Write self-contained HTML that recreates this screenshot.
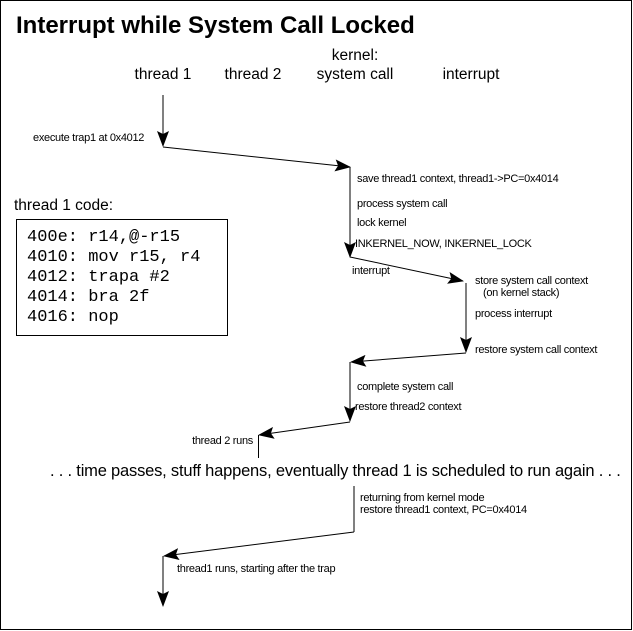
<!DOCTYPE html>
<html><head><style>
html,body{margin:0;padding:0;background:#fff}
svg{display:block}
text{font-family:"Liberation Sans",Arial,sans-serif;fill:#000}
.s{font-size:11px;letter-spacing:-0.3px}
.h{font-size:15.5px}
.c{font-family:"Liberation Mono",monospace;font-size:17px}
</style></head><body>
<svg width="633" height="631" viewBox="0 0 633 631" xmlns="http://www.w3.org/2000/svg">
<defs>
<marker id="a" markerWidth="16" markerHeight="12" refX="15" refY="6" orient="auto" markerUnits="userSpaceOnUse">
<path d="M0,0 L16,6 L0,12 L3,6 Z" fill="#000"/>
</marker>
</defs>
<rect x="0.5" y="0.5" width="631" height="629" fill="#fff" stroke="#000"/>
<text x="16" y="33" style="font-size:24px;font-weight:bold">Interrupt while System Call Locked</text>
<text class="h" x="163" y="79" text-anchor="middle">thread 1</text>
<text class="h" x="253" y="79" text-anchor="middle">thread 2</text>
<text class="h" x="355" y="60" text-anchor="middle">kernel:</text>
<text class="h" x="355" y="79" text-anchor="middle">system call</text>
<text class="h" x="471" y="79" text-anchor="middle">interrupt</text>

<g stroke="#000" stroke-width="1" fill="none">
<line x1="163" y1="95" x2="163" y2="146" marker-end="url(#a)"/>
<line x1="163" y1="147" x2="350" y2="167" marker-end="url(#a)"/>
<line x1="350" y1="167" x2="350" y2="257" marker-end="url(#a)"/>
<line x1="350" y1="257" x2="463" y2="281" marker-end="url(#a)"/>
<line x1="466" y1="283" x2="466" y2="352" marker-end="url(#a)"/>
<line x1="466" y1="353" x2="351" y2="362" marker-end="url(#a)"/>
<line x1="350" y1="362" x2="350" y2="421" marker-end="url(#a)"/>
<line x1="350" y1="422" x2="259" y2="435" marker-end="url(#a)"/>
<line x1="258.5" y1="435" x2="258.5" y2="458"/>
<line x1="354" y1="486" x2="354" y2="532"/>
<line x1="354" y1="532" x2="164" y2="556" marker-end="url(#a)"/>
<line x1="163" y1="556" x2="163" y2="606" marker-end="url(#a)"/>
</g>

<text class="s" x="33" y="141">execute trap1 at 0x4012</text>
<text class="s" x="357" y="182">save thread1 context, thread1-&gt;PC=0x4014</text>
<text class="s" x="357" y="207">process system call</text>
<text class="s" x="357" y="226">lock kernel</text>
<text class="s" x="355" y="247">INKERNEL_NOW, INKERNEL_LOCK</text>
<text class="s" x="352" y="274">interrupt</text>
<text class="s" x="475" y="284">store system call context</text>
<text class="s" x="483" y="296">(on kernel stack)</text>
<text class="s" x="475" y="317">process interrupt</text>
<text class="s" x="475" y="353">restore system call context</text>
<text class="s" x="357" y="390">complete system call</text>
<text class="s" x="355" y="410">restore thread2 context</text>
<text class="s" x="253" y="444" text-anchor="end">thread 2 runs</text>
<text x="50" y="476" style="font-size:16.5px;letter-spacing:-0.2px">. . . time passes, stuff happens, eventually thread 1 is scheduled to run again . . .</text>
<text class="s" x="360" y="501">returning from kernel mode</text>
<text class="s" x="360" y="513">restore thread1 context, PC=0x4014</text>
<text class="s" x="177" y="572">thread1 runs, starting after the trap</text>

<text class="h" x="14" y="210">thread 1 code:</text>
<rect x="16.5" y="219.5" width="211" height="116" fill="none" stroke="#000"/>
<text class="c" x="27" y="241">400e: r14,@-r15</text>
<text class="c" x="27" y="261">4010: mov r15, r4</text>
<text class="c" x="27" y="281">4012: trapa #2</text>
<text class="c" x="27" y="301">4014: bra 2f</text>
<text class="c" x="27" y="321">4016: nop</text>
</svg>
</body></html>
